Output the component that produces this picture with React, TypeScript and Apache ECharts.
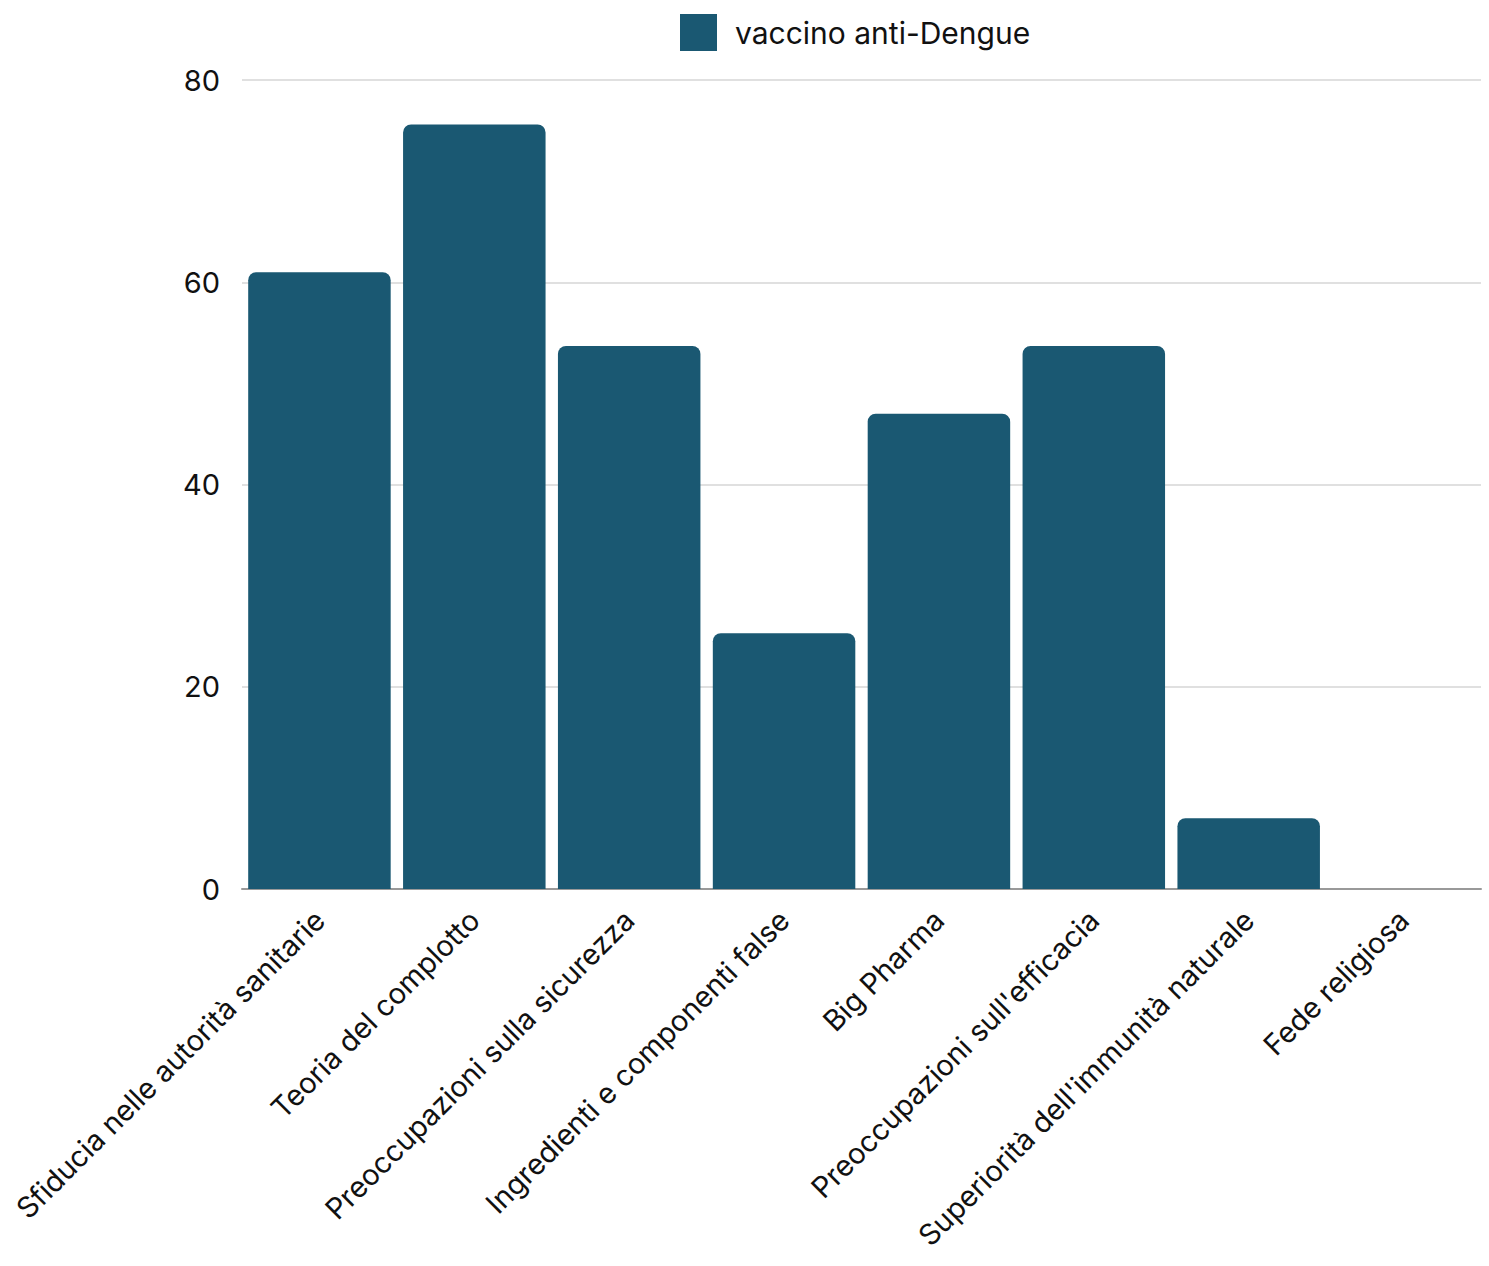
import React, { useEffect, useRef } from "react";
import * as echarts from "echarts";

const categories = [
  "Sfiducia nelle autorità sanitarie",
  "Teoria del complotto",
  "Preoccupazioni sulla sicurezza",
  "Ingredienti e componenti false",
  "Big Pharma",
  "Preoccupazioni sull'efficacia",
  "Superiorità dell'immunità naturale",
  "Fede religiosa",
];
const seriesName = "vaccino anti-Dengue";
const values = [61, 75.6, 53.7, 25.3, 47, 53.7, 7, 0];
const yTicks = [0, 20, 40, 60, 80];

const FONT = "Inter, 'Noto Sans', sans-serif";
const BAR_COLOR = "#1a5872";

export default function App() {
  const ref = useRef<HTMLDivElement>(null);
  useEffect(() => {
    if (!ref.current) return;
    const chart = echarts.init(ref.current, undefined, { renderer: "svg" });
    chart.setOption({
      animation: false,
      textStyle: { fontFamily: FONT },
      legend: {
        data: [seriesName],
        left: 680,
        top: 14,
        padding: 0,
        itemWidth: 37,
        itemHeight: 37,
        icon: "rect",
        textStyle: {
          fontFamily: FONT,
          fontSize: 30,
          color: "#111",
          padding: [0, 0, 4, 13],
        },
      },
      grid: {
        left: 242,
        right: 8,
        top: 80,
        bottom: 377,
        containLabel: false,
        outerBoundsMode: "none",
      },
      xAxis: {
        type: "category",
        data: categories,
        axisLine: { lineStyle: { color: "#999", width: 2 } },
        axisTick: { show: false },
        axisLabel: {
          rotate: 45,
          interval: 0,
          margin: 26,
          fontFamily: FONT,
          fontSize: 29,
          color: "#111",
        },
      },
      yAxis: {
        type: "value",
        min: yTicks[0],
        max: yTicks[yTicks.length - 1],
        interval: 20,
        axisLine: { show: false },
        axisTick: { show: false },
        splitLine: { lineStyle: { color: "#d6d6d6", width: 1.5 } },
        axisLabel: {
          margin: 22,
          fontFamily: FONT,
          fontSize: 29,
          color: "#111",
        },
      },
      series: [
        {
          name: seriesName,
          type: "bar",
          data: values,
          barCategoryGap: "8%",
          itemStyle: { color: BAR_COLOR, borderRadius: [8, 8, 0, 0] },
        },
      ],
    });
    return () => chart.dispose();
  }, []);
  return (
    <div
      ref={ref}
      style={{ position: "absolute", left: 0, top: 0, width: 1489, height: 1266 }}
    />
  );
}
